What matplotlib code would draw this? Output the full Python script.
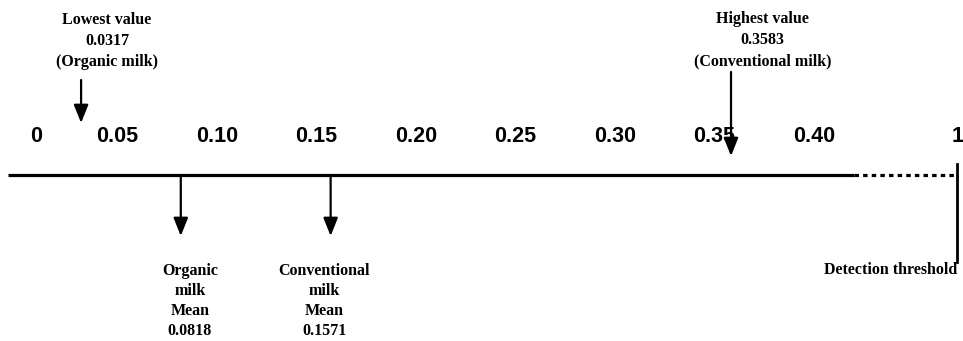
import numpy as np
import matplotlib.pyplot as plt

# values on the scale
tick_values = [0, 0.05, 0.10, 0.15, 0.20, 0.25, 0.30, 0.35, 0.40, 1]
tick_labels = ["0", "0.05", "0.10", "0.15", "0.20", "0.25", "0.30", "0.35", "0.40", "1"]

lowest_value = 0.0317
highest_value = 0.3583
organic_mean = 0.0818
conventional_mean = 0.1571
detection_threshold = 1

# axis break: linear up to BREAK, then squeezed so 1 still fits
BREAK = 0.42
SQUEEZE = 0.0897


def forward(v):
    v = np.asarray(v, dtype=float)
    return np.where(v <= BREAK, v, BREAK + (v - BREAK) * SQUEEZE)


def inverse(u):
    u = np.asarray(u, dtype=float)
    return np.where(u <= BREAK, u, BREAK + (u - BREAK) / SQUEEZE)


def main():
    fig = plt.figure(figsize=(9.63, 3.41), dpi=100)
    ax = fig.add_axes([0, 0, 1, 1])
    ax.set_xscale("function", functions=(forward, inverse))

    # 0 sits at pixel 18, 1990 px per unit
    ax.set_xlim(float(inverse(-18 / 1990)), float(inverse((963 - 18) / 1990)))
    ax.set_ylim(341, 0)
    ax.axis("off")

    serif = dict(family="Liberation Serif", weight="bold", fontsize=11.5,
                 ha="center", va="center", linespacing=1.42)
    arrow = dict(arrowstyle="-|>,head_length=0.55,head_width=0.22", color="black",
                 lw=1.6, shrinkA=0, shrinkB=0, mutation_scale=20)

    # main line, solid part then dotted part up to the threshold
    ax.plot([-0.005, BREAK], [175, 175], color="black", lw=2.3, solid_capstyle="butt")
    ax.plot([BREAK, detection_threshold], [175, 175], color="black", lw=2.3,
            linestyle=(0, (1.4, 1.3)), dash_capstyle="butt")
    ax.plot([detection_threshold, detection_threshold], [164, 262], color="black", lw=2)

    # tick labels
    for val, lab in zip(tick_values, tick_labels):
        xoff = 18 if lab == "0" else 0
        ax.annotate(lab, xy=(val, 137), xytext=(xoff * 0.72, 0), textcoords="offset points",
                    family="Liberation Sans", weight="bold", fontsize=15.5,
                    ha="center", va="center")

    # arrows above the line
    ax.annotate("", xy=(lowest_value, 123), xytext=(lowest_value, 80), arrowprops=arrow)
    ax.annotate("", xy=(highest_value, 156), xytext=(highest_value, 72), arrowprops=arrow)
    ax.text(0.0447, 41, "Lowest value\n0.0317\n(Organic milk)", **serif)
    ax.text(0.374, 40, "Highest value\n0.3583\n(Conventional milk)", **serif)

    # arrows below the line
    ax.annotate("", xy=(organic_mean, 236), xytext=(organic_mean, 176), arrowprops=arrow)
    ax.annotate("", xy=(conventional_mean, 236), xytext=(conventional_mean, 176), arrowprops=arrow)
    ax.text(0.0864, 301, "Organic\nmilk\nMean\n0.0818", **dict(serif, linespacing=1.35))
    ax.text(0.154, 301, "Conventional\nmilk\nMean\n0.1571", **dict(serif, linespacing=1.35))

    ax.text(detection_threshold, 270, "Detection threshold",
            **dict(serif, ha="right"))

    fig.savefig("out.png", dpi=100, facecolor="white")


if __name__ == "__main__":
    main()
